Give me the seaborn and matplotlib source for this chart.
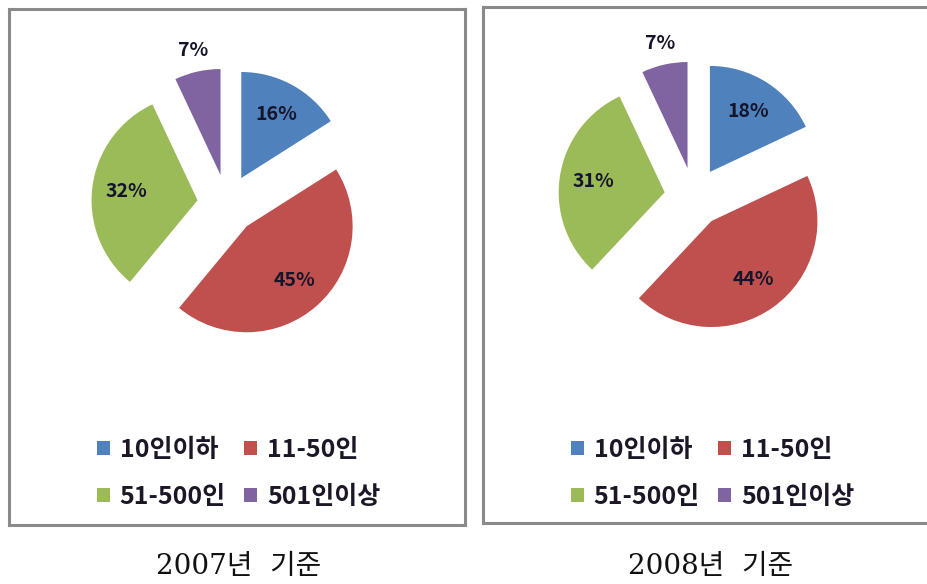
import numpy as np
import seaborn as sns
import matplotlib.pyplot as plt

# data
categories = ['10인이하', '11-50인', '51-500인', '501인이상']
shares_2007 = [16, 45, 32, 7]
shares_2008 = [18, 44, 31, 7]
captions = ['2007년  기준', '2008년  기준']
colors = ['#4F81BD', '#C0504D', '#9BBB59', '#8064A2']

sns.set_style('white')
plt.rcParams['font.family'] = ['Noto Sans CJK KR', 'DejaVu Sans']

W, H = 927, 584
fig = plt.figure(figsize=(W / 100, H / 100), dpi=100)

R = 106  # pie radius in pixels

# (box left, top, right, bottom), pie centre, caption centre  -- all in pixels
panels = [
    dict(values=shares_2007, box=(9, 9, 465, 525), centre=(227, 204), cap_x=239),
    dict(values=shares_2008, box=(483, 7, 929, 523), centre=(694, 197), cap_x=711),
]


def px_rect(x0, y0, x1, y1):
    return [x0 / W, 1 - y1 / H, (x1 - x0) / W, (y1 - y0) / H]


for panel, caption in zip(panels, captions):
    x0, y0, x1, y1 = panel['box']
    cx, cy = panel['centre']
    ax = fig.add_axes(px_rect(x0, y0, x1, y1))

    wedges, _, autotexts = ax.pie(
        panel['values'], colors=colors, startangle=90, counterclock=False,
        explode=[0.28] * len(categories), autopct=lambda p: f'{p:.0f}%',
        pctdistance=0.68, wedgeprops=dict(linewidth=0),
        textprops=dict(fontsize=14, fontweight='bold', color='#14142a'))

    # small slice: label sits outside the wedge
    w = wedges[-1]
    mid = np.deg2rad((w.theta1 + w.theta2) / 2)
    autotexts[-1].set_position((w.center[0] + 1.2 * np.cos(mid),
                                w.center[1] + 1.2 * np.sin(mid)))

    ax.set_aspect('auto')
    ax.set_xlim((x0 - cx) / R, (x1 - cx) / R)
    ax.set_ylim((cy - y1) / R, (cy - y0) / R)

    # grey frame around each chart
    ax.set_frame_on(True)
    for s in ax.spines.values():
        s.set_visible(True)
        s.set_color('#8a8a8a')
        s.set_linewidth(2.2)

    # legend reads row by row, so reorder for matplotlib's column filling
    order = [0, 2, 1, 3]
    ax.legend([wedges[i] for i in order], [categories[i] for i in order],
              ncol=2, loc='upper left',
              bbox_to_anchor=((x0 + 88) / W, 1 - 438 / H),
              bbox_transform=fig.transFigure, frameon=False,
              prop=dict(size=18, weight='bold'), labelcolor='#1c1626',
              handlelength=0.5, handleheight=0.5, handletextpad=0.4,
              columnspacing=0.75, labelspacing=0.92, borderpad=0,
              borderaxespad=0)

    fig.text(panel['cap_x'] / W, 1 - 567 / H, caption, ha='center', va='center',
             fontsize=20, family=['DejaVu Serif', 'Noto Sans CJK KR'],
             color='#111111')

fig.savefig('out.png', dpi=100)
